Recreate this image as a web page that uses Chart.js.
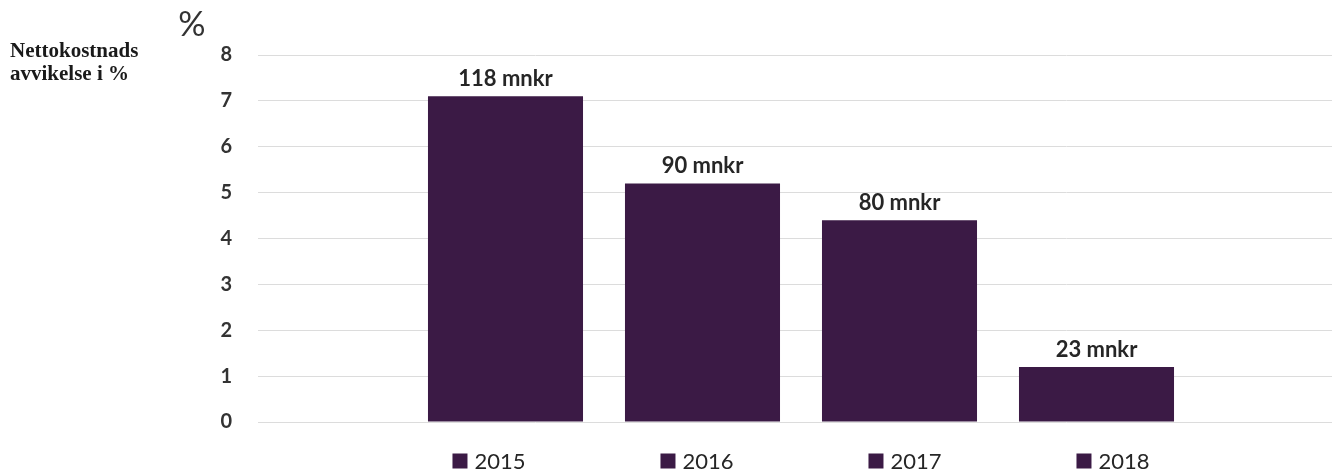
<!DOCTYPE html>
<html>
<head>
<meta charset="utf-8">
<script src="https://cdn.jsdelivr.net/npm/chart.js@4/dist/chart.umd.min.js"></script>
<style>
    body { margin: 0; background: #ffffff; }
    #wrap { width: 1339px; height: 471px; position: relative; }
</style>
</head>
<body>
<div id="wrap"><canvas id="avvikChart"></canvas></div>
<script>
var years = ['2015', '2016', '2017', '2018'];
var avvik = [7.1, 5.2, 4.4, 1.2];
var mnkrLabels = ['118 mnkr', '90 mnkr', '80 mnkr', '23 mnkr'];
var yMin = 0;
var yMax = 8;
var yStep = 1;

var barColor = '#3b1a45';

// etiketter over stolpene, egen legend og tekst til venstre
var ekstraTekst = {
    id: 'ekstraTekst',
    afterDatasetsDraw: function (chart) {
        var ctx = chart.ctx;
        var area = chart.chartArea;
        ctx.save();

        ctx.fillStyle = '#262626';
        ctx.font = 'bold 22px Lato';
        ctx.textAlign = 'center';
        ctx.textBaseline = 'alphabetic';
        chart.data.datasets.forEach(function (ds, i) {
            var bar = chart.getDatasetMeta(i).data[0];
            ctx.fillText(mnkrLabels[i], bar.x, bar.y - 10);
        });

        // legend
        ctx.font = '22px Lato';
        var box = 15, gap = 7, step = 208;
        var total = step * (years.length - 1);
        var lastW = box + gap + ctx.measureText(years[years.length - 1]).width;
        var x0 = (area.left + area.right) / 2 - (total + lastW) / 2;
        var ly = 461;
        ctx.textAlign = 'left';
        ctx.textBaseline = 'middle';
        years.forEach(function (y, i) {
            var x = x0 + i * step;
            ctx.fillStyle = barColor;
            ctx.fillRect(x, ly - box / 2, box, box);
            ctx.fillStyle = '#262626';
            ctx.fillText(y, x + box + gap, ly + 1);
        });

        // y-akse tittel
        ctx.fillStyle = '#333333';
        ctx.font = '34px Lato';
        ctx.textAlign = 'center';
        ctx.textBaseline = 'alphabetic';
        ctx.fillText('%', 192, 36);

        ctx.fillStyle = '#1a1a1a';
        ctx.font = 'bold 21px "Liberation Serif"';
        ctx.textAlign = 'left';
        ctx.fillText('Nettokostnads', 10, 57);
        ctx.fillText('avvikelse i %', 10, 80);

        ctx.restore();
    }
};

var datasets = years.map(function (y, i) {
    return {
        label: y,
        data: [avvik[i]],
        backgroundColor: barColor,
        borderWidth: 0,
        categoryPercentage: 0.742,
        barPercentage: 0.787
    };
});

var ctx = document.getElementById('avvikChart');

window.avvikChart = new Chart(ctx, {
    type: 'bar',
    data: {
        labels: [''],
        datasets: datasets
    },
    options: {
        responsive: true,
        maintainAspectRatio: false,
        animation: false,
        devicePixelRatio: 1,
        layout: {
            padding: { top: 55, bottom: 49, left: 0, right: 7 }
        },
        scales: {
            x: { display: false },
            y: {
                min: yMin,
                max: yMax,
                afterFit: function (scale) { scale.width = 270; },
                border: { display: false },
                grid: {
                    color: '#dcdcdc',
                    lineWidth: 1,
                    drawTicks: true,
                    tickLength: 12
                },
                ticks: {
                    stepSize: yStep,
                    padding: 26,
                    color: '#333333',
                    font: { family: 'Lato', size: 20, weight: 'bold' }
                }
            }
        },
        plugins: {
            legend: { display: false },
            tooltip: { enabled: false }
        }
    },
    plugins: [ekstraTekst]
});
</script>
</body>
</html>
